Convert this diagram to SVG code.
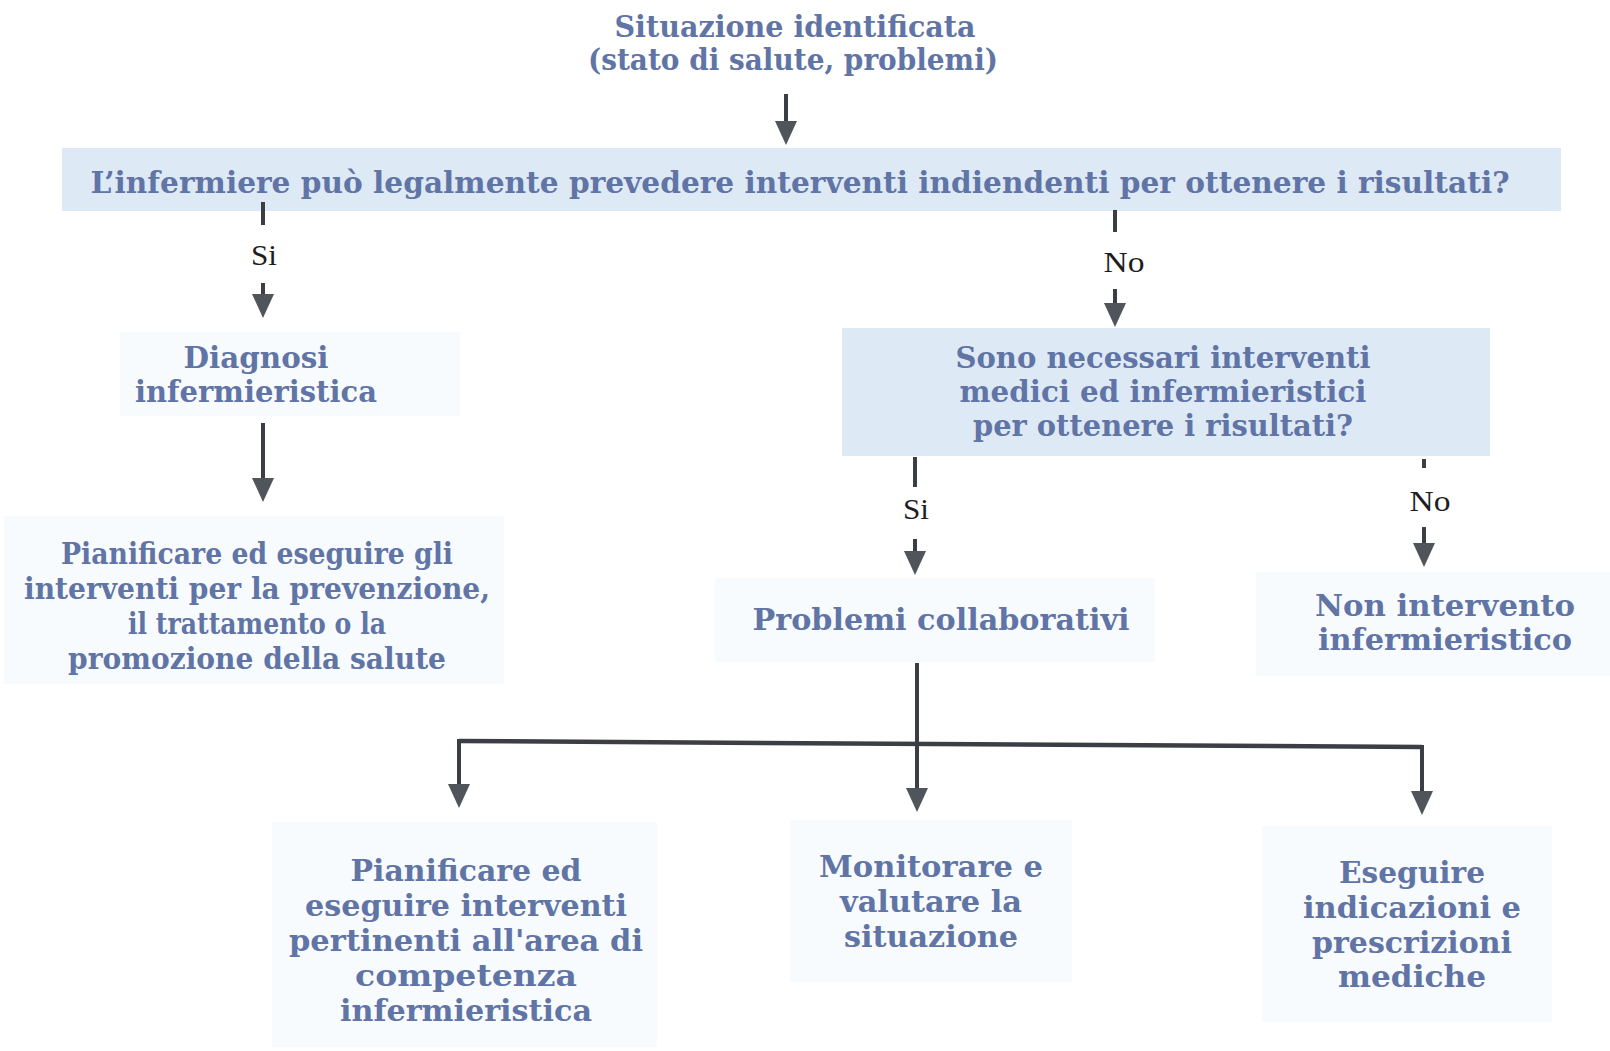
<svg xmlns="http://www.w3.org/2000/svg" width="1610" height="1051" viewBox="0 0 1610 1051">
  <style>
    .t { font-family: "DejaVu Serif", "Liberation Serif", serif; font-weight: bold; font-size: 29px; fill: #6074a6; text-anchor: middle; }
    .lbl { font-family: "Liberation Serif", "DejaVu Serif", serif; font-size: 30px; fill: #1e1e1e; text-anchor: middle; }
    .band { fill: #dee9f6; }
    .soft { fill: #f8fbfd; }
    .link { stroke: #3b3f45; stroke-width: 4; fill: none; }
    .bar { stroke: #3b3f45; stroke-width: 4.5; fill: none; }
  </style>
  <defs>
    <marker id="head" markerUnits="userSpaceOnUse" markerWidth="26" markerHeight="24" refX="0" refY="11" orient="auto" viewBox="0 0 26 24">
      <path d="M0,0 L24,11 L0,22 z" fill="#50555c"/>
    </marker>
  </defs>

  <rect width="1610" height="1051" fill="#ffffff"/>

  <!-- start -->
  <g id="n-situazione">
    <text class="t" x="795" y="37" textLength="361" lengthAdjust="spacingAndGlyphs">Situazione identificata</text>
    <text class="t" x="793" y="70" textLength="410" lengthAdjust="spacingAndGlyphs">(stato di salute, problemi)</text>
  </g>

  <!-- first decision -->
  <g id="n-decisione-legale">
    <rect class="band" x="62" y="148" width="1499" height="63"/>
    <text class="t" x="800" y="193" textLength="1419" lengthAdjust="spacingAndGlyphs">L’infermiere può legalmente prevedere interventi indiendenti per ottenere i risultati?</text>
  </g>

  <!-- yes branch -->
  <g id="n-diagnosi">
    <rect class="soft" x="120" y="332" width="340" height="84"/>
    <text class="t" x="256" y="368" textLength="145" lengthAdjust="spacingAndGlyphs">Diagnosi</text>
    <text class="t" x="256" y="402" textLength="242" lengthAdjust="spacingAndGlyphs">infermieristica</text>
  </g>

  <g id="n-pianificare">
    <rect class="soft" x="4" y="516" width="500" height="168"/>
    <text class="t" x="257" y="564" textLength="392" lengthAdjust="spacingAndGlyphs">Pianificare ed eseguire gli</text>
    <text class="t" x="257" y="599" textLength="466" lengthAdjust="spacingAndGlyphs">interventi per la prevenzione,</text>
    <text class="t" x="257" y="634" textLength="258" lengthAdjust="spacingAndGlyphs">il trattamento o la</text>
    <text class="t" x="257" y="669" textLength="378" lengthAdjust="spacingAndGlyphs">promozione della salute</text>
  </g>

  <!-- no branch -->
  <g id="n-decisione-medica">
    <rect class="band" x="842" y="328" width="648" height="128"/>
    <text class="t" x="1163" y="368" textLength="415" lengthAdjust="spacingAndGlyphs">Sono necessari interventi</text>
    <text class="t" x="1163" y="402" textLength="407" lengthAdjust="spacingAndGlyphs">medici ed infermieristici</text>
    <text class="t" x="1163" y="436" textLength="380" lengthAdjust="spacingAndGlyphs">per ottenere i risultati?</text>
  </g>

  <g id="n-problemi">
    <rect class="soft" x="715" y="578" width="440" height="84"/>
    <text class="t" x="941" y="630" textLength="377" lengthAdjust="spacingAndGlyphs">Problemi collaborativi</text>
  </g>

  <g id="n-non-intervento">
    <rect class="soft" x="1256" y="572" width="354" height="104"/>
    <text class="t" x="1445" y="616" textLength="260" lengthAdjust="spacingAndGlyphs">Non intervento</text>
    <text class="t" x="1445" y="650" textLength="254" lengthAdjust="spacingAndGlyphs">infermieristico</text>
  </g>

  <!-- collaborative outcomes -->
  <g id="n-competenza">
    <rect class="soft" x="272" y="822" width="385" height="225"/>
    <text class="t" x="466" y="881" textLength="231" lengthAdjust="spacingAndGlyphs">Pianificare ed</text>
    <text class="t" x="466" y="916" textLength="322" lengthAdjust="spacingAndGlyphs">eseguire interventi</text>
    <text class="t" x="466" y="951" textLength="354" lengthAdjust="spacingAndGlyphs">pertinenti all'area di</text>
    <text class="t" x="466" y="986" textLength="222" lengthAdjust="spacingAndGlyphs">competenza</text>
    <text class="t" x="466" y="1021" textLength="252" lengthAdjust="spacingAndGlyphs">infermieristica</text>
  </g>

  <g id="n-monitorare">
    <rect class="soft" x="790" y="820" width="282" height="162"/>
    <text class="t" x="931" y="877" textLength="224" lengthAdjust="spacingAndGlyphs">Monitorare e</text>
    <text class="t" x="931" y="912" textLength="182" lengthAdjust="spacingAndGlyphs">valutare la</text>
    <text class="t" x="931" y="947" textLength="174" lengthAdjust="spacingAndGlyphs">situazione</text>
  </g>

  <g id="n-prescrizioni">
    <rect class="soft" x="1262" y="826" width="290" height="196"/>
    <text class="t" x="1412" y="883" textLength="146" lengthAdjust="spacingAndGlyphs">Eseguire</text>
    <text class="t" x="1412" y="918" textLength="218" lengthAdjust="spacingAndGlyphs">indicazioni e</text>
    <text class="t" x="1412" y="953" textLength="200" lengthAdjust="spacingAndGlyphs">prescrizioni</text>
    <text class="t" x="1412" y="987" textLength="148" lengthAdjust="spacingAndGlyphs">mediche</text>
  </g>

  <!-- connectors -->
  <g id="connectors">
    <line class="link" x1="786" y1="94" x2="786" y2="121" marker-end="url(#head)"/>

    <line class="link" x1="263" y1="202" x2="263" y2="225"/>
    <text class="lbl" x="264" y="265" textLength="26" lengthAdjust="spacingAndGlyphs">Si</text>
    <line class="link" x1="263" y1="283" x2="263" y2="294" marker-end="url(#head)"/>
    <line class="link" x1="263" y1="423" x2="263" y2="478" marker-end="url(#head)"/>

    <line class="link" x1="1115" y1="210" x2="1115" y2="232"/>
    <text class="lbl" x="1124" y="272" textLength="41" lengthAdjust="spacingAndGlyphs">No</text>
    <line class="link" x1="1115" y1="289" x2="1115" y2="303" marker-end="url(#head)"/>

    <line class="link" x1="915" y1="457" x2="915" y2="487"/>
    <text class="lbl" x="916" y="519" textLength="26" lengthAdjust="spacingAndGlyphs">Si</text>
    <line class="link" x1="915" y1="539" x2="915" y2="551" marker-end="url(#head)"/>

    <line class="link" x1="1424" y1="459" x2="1424" y2="468"/>
    <text class="lbl" x="1430" y="511" textLength="41" lengthAdjust="spacingAndGlyphs">No</text>
    <line class="link" x1="1424" y1="527" x2="1424" y2="543" marker-end="url(#head)"/>

    <line class="link" x1="917" y1="663" x2="917" y2="788" marker-end="url(#head)"/>
    <path class="bar" d="M459,741 L1422,747"/>
    <line class="link" x1="459" y1="739" x2="459" y2="784" marker-end="url(#head)"/>
    <line class="link" x1="1422" y1="745" x2="1422" y2="791" marker-end="url(#head)"/>
  </g>
</svg>
